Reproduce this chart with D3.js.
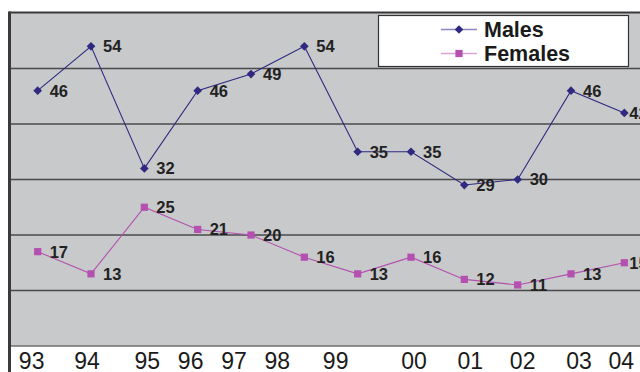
<!DOCTYPE html>
<html>
<head>
<meta charset="utf-8">
<script src="https://cdn.jsdelivr.net/npm/d3@7"></script>
<style>
  html, body { margin: 0; padding: 0; background: #ffffff; }
  svg { display: block; }
  text { font-family: "Liberation Sans", Arial, Helvetica, sans-serif; }
</style>
</head>
<body>
<svg id="chart" width="640" height="372"></svg>
<script>
// Survey years (two-digit labels) and counts per year
const years = ["93", "94", "95", "96", "97", "98", "99", "00", "01", "02", "03", "04"];
const males = [46, 54, 32, 46, 49, 54, 35, 35, 29, 30, 46, 42];
const females = [17, 13, 25, 21, 20, 16, 13, 16, 12, 11, 13, 15];
const seriesNames = ["Males", "Females"];
const yMax = 60;
const gridValues = [10, 20, 30, 40, 50];

// Layout
const W = 640, H = 372;
const plot = { left: 11, top: 13, right: 651, bottom: 346 };
const colors = { Males: "#2f2a80", Females: "#b450b0" };
const legendLineColors = { Males: "#8c86c4", Females: "#dba2d8" };
// horizontal nudges of the year labels relative to each point
const labelNudge = [-6, -4, 3, -7, -17, -27, -22, 3, 6, 5, 8, -3];

const svg = d3.select("#chart");

const x = d3.scalePoint()
  .domain(years)
  .range([plot.left, plot.right])
  .padding(0.5);

const y = d3.scaleLinear()
  .domain([0, yMax])
  .range([plot.bottom, plot.top]);

// Plot background
svg.append("rect")
  .attr("x", plot.left)
  .attr("y", plot.top)
  .attr("width", W - plot.left)
  .attr("height", plot.bottom - plot.top)
  .attr("fill", "#c8c9cb");

// Horizontal gridlines
svg.append("g")
  .selectAll("line")
  .data(gridValues)
  .join("line")
  .attr("x1", plot.left)
  .attr("x2", W)
  .attr("y1", d => y(d))
  .attr("y2", d => y(d))
  .attr("stroke", "#4a4a4c")
  .attr("stroke-width", 1.4);

// Bottom axis line
svg.append("line")
  .attr("x1", plot.left).attr("x2", W)
  .attr("y1", y(0)).attr("y2", y(0))
  .attr("stroke", "#6e6e70")
  .attr("stroke-width", 1.4);

// Top border
svg.append("line")
  .attr("x1", plot.left - 2).attr("x2", W)
  .attr("y1", y(yMax) - 0.5).attr("y2", y(yMax) - 0.5)
  .attr("stroke", "#3a3a3c")
  .attr("stroke-width", 2.2);

// Left axis line
svg.append("line")
  .attr("x1", plot.left - 1.5).attr("x2", plot.left - 1.5)
  .attr("y1", y(yMax) - 1.5).attr("y2", H)
  .attr("stroke", "#3a3a3c")
  .attr("stroke-width", 3);

// Year labels along the bottom
svg.append("g")
  .selectAll("text")
  .data(years)
  .join("text")
  .attr("x", (d, i) => x(d) + labelNudge[i])
  .attr("y", 369)
  .attr("text-anchor", "middle")
  .attr("font-size", 23)
  .attr("fill", "#1a1a1a")
  .text(d => d);

const line = d3.line()
  .x((d, i) => x(years[i]))
  .y(d => y(d));

const diamond = d3.symbol().type(d3.symbolDiamond2).size(48);
const square = d3.symbol().type(d3.symbolSquare).size(52);

function drawSeries(name, values, symbolGen) {
  const g = svg.append("g");
  g.append("path")
    .datum(values)
    .attr("d", line)
    .attr("fill", "none")
    .attr("stroke", colors[name])
    .attr("stroke-width", 1.1);
  g.selectAll("path.mark")
    .data(values)
    .join("path")
    .attr("class", "mark")
    .attr("transform", (d, i) => `translate(${x(years[i])},${y(d)})`)
    .attr("d", symbolGen)
    .attr("fill", colors[name]);
  g.selectAll("text")
    .data(values)
    .join("text")
    // the last label sits tighter against its marker near the edge
    .attr("x", (d, i) => x(years[i]) + (i === values.length - 1 ? 5 : 12))
    .attr("y", d => y(d))
    .attr("dy", "0.36em")
    .attr("font-size", 16.5)
    .attr("font-weight", "bold")
    .attr("fill", "#222222")
    .text(d => d);
}

drawSeries("Males", males, diamond);
drawSeries("Females", females, square);

// Legend
const legend = svg.append("g");
legend.append("rect")
  .attr("x", 378.5).attr("y", 15.5)
  .attr("width", 250).attr("height", 51)
  .attr("fill", "#ffffff")
  .attr("stroke", "#333333")
  .attr("stroke-width", 1.2);

const legendRows = [
  { name: seriesNames[0], sym: diamond, cy: 29.5 },
  { name: seriesNames[1], sym: square, cy: 53.5 }
];
legendRows.forEach(r => {
  legend.append("line")
    .attr("x1", 441).attr("x2", 477)
    .attr("y1", r.cy).attr("y2", r.cy)
    .attr("stroke", legendLineColors[r.name])
    .attr("stroke-width", 1.6);
  legend.append("path")
    .attr("transform", `translate(459,${r.cy})`)
    .attr("d", r.sym)
    .attr("fill", colors[r.name]);
  legend.append("text")
    .attr("x", 484)
    .attr("y", r.cy)
    .attr("dy", "0.36em")
    .attr("font-size", 21.5)
    .attr("font-weight", "bold")
    .attr("fill", "#1a1a1a")
    .text(r.name);
});
</script>
</body>
</html>
